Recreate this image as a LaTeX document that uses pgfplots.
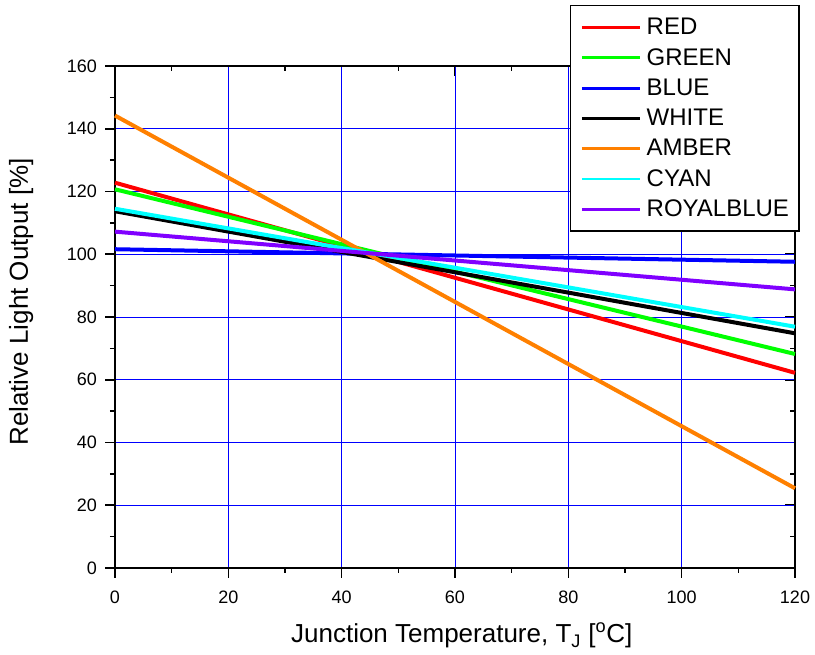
\documentclass[border=0pt]{standalone}
\usepackage{fontspec}
\setmainfont{Liberation Sans}
\usepackage{pgfplots}
\pgfplotsset{compat=1.18}
\definecolor{cRed}{RGB}{255,0,0}
\definecolor{cGreen}{RGB}{0,255,0}
\definecolor{cBlue}{RGB}{0,0,255}
\definecolor{cAmber}{RGB}{255,128,0}
\definecolor{cCyan}{RGB}{0,255,255}
\definecolor{cRoyal}{RGB}{128,0,255}
\begin{document}
\begin{tikzpicture}
\pgfplotsset{
  base/.style={
    scale only axis, width=510pt, height=376.5pt,
    xmin=0, xmax=120, ymin=0, ymax=160,
    xtick={0,20,...,120}, ytick={0,20,...,160},
    minor x tick num=1, minor y tick num=1,
    axis line style={line width=1.2pt},
    major tick length=7.5pt, minor tick length=3.75pt,
    every tick/.style={black, line width=1.2pt},
    every minor tick/.style={black, line width=1.2pt},
  }
}
\begin{axis}[base,
  tick align=inside, xtick pos=top, ytick pos=right,
  xticklabels={}, yticklabels={},
]
\end{axis}
\begin{axis}[base, name=ax,
  tick align=outside, xtick pos=bottom, ytick pos=left,
  grid=major, grid style={cBlue, line width=0.7pt},
  /pgf/number format/assume math mode=true,
  ticklabel style={font=\fontsize{13.5}{16}\selectfont},
  yticklabel style={xshift=-2.5pt},
  xticklabel style={yshift=-6pt},
  xlabel={Junction Temperature, T\textsubscript{J} [\textsuperscript{o}C]},
  ylabel={Relative Light Output [\%]},
  every axis x label/.style={at={(axis description cs:0.51,-0.135)}, anchor=center, font=\fontsize{19.5}{23}\selectfont},
  every axis y label/.style={at={(axis description cs:-0.138,0.53)}, anchor=center, rotate=90, font=\fontsize{19.5}{23}\selectfont},
  legend image code/.code={\draw[#1, line width=2.1pt] (0pt,0pt) -- (43.5pt,0pt);},
  legend cell align=left,
  legend style={at={(axis description cs:0.669,1.1215)}, anchor=north west,
    draw=black, line width=1pt, fill=white,
    inner xsep=7.5pt, inner ysep=5.1pt,
    font=\fontsize{18}{21}\selectfont,
    row sep=0pt,
    nodes={inner sep=0pt, text height=16.8pt, text depth=5.9pt},
    /tikz/every odd column/.append style={column sep=4pt}},
  clip=false,
]
\addplot[cRed, line width=3pt] coordinates {(0,122.8) (120,62.2)};
\addlegendentry{RED}
\addplot[cGreen, line width=3pt] coordinates {(0,120.7) (120,68.2)};
\addlegendentry{GREEN}
\addplot[cBlue, line width=3pt] coordinates {(0,101.6) (120,97.6)};
\addlegendentry{BLUE}
\addplot[black, line width=3pt] coordinates {(0,113.7) (120,74.8)};
\addlegendentry{WHITE}
\addplot[cAmber, line width=3pt] coordinates {(0,144.2) (120,25.4)};
\addlegendentry{AMBER}
\addplot[cCyan, line width=3pt] coordinates {(0,114.5) (120,76.9)};
\addlegendentry{CYAN}
\addplot[cRoyal, line width=3pt] coordinates {(0,107.2) (120,88.8)};
\addlegendentry{ROYALBLUE}
\end{axis}
\path[use as bounding box] ([shift={(-86.25pt,-65.25pt)}]ax.south west) rectangle ([shift={(15pt,49.5pt)}]ax.north east);
\end{tikzpicture}
\end{document}
